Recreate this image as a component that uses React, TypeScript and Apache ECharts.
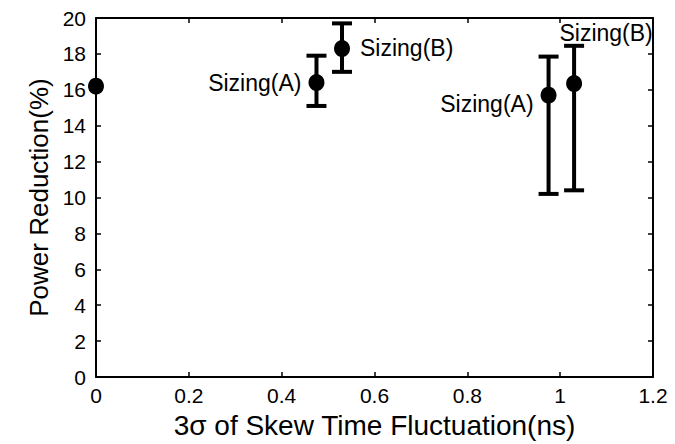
import React, { useEffect, useRef } from "react";
import * as echarts from "echarts";

// ---- data ----
const pointX = [0, 0.475, 0.53, 0.975, 1.03];
const pointY = [16.2, 16.4, 18.3, 15.7, 16.35];
const errLow: (number | null)[] = [null, 15.1, 17.0, 10.2, 10.4];
const errHigh: (number | null)[] = [null, 17.9, 19.7, 17.85, 18.45];
const pointLabels = ["", "Sizing(A)", "Sizing(B)", "Sizing(A)", "Sizing(B)"];

const xMin = 0, xMax = 1.2, xStep = 0.2;
const yMin = 0, yMax = 20, yStep = 2;
const xTitle = "3σ of Skew Time Fluctuation(ns)";
const yTitle = "Power Reduction(%)";

// ---- label placement (style, not data) ----
const labelPlacement: any[] = [
  { show: false },
  { position: "left", distance: 7, offset: [0, 0] },
  { position: "right", distance: 10, offset: [0, -1] },
  { position: "left", distance: 7, offset: [0, 9] },
  { position: "inside", offset: [32, -51] },
];

const FONT = "Liberation Sans, Arial, Helvetica, sans-serif";

export default function App() {
  const ref = useRef<HTMLDivElement>(null);
  useEffect(() => {
    if (!ref.current) return;
    const chart = echarts.init(ref.current, null, { renderer: "svg" });

    const scatterData = pointX.map((x, i) => ({
      value: [x, pointY[i]],
      name: pointLabels[i],
      label: { show: pointLabels[i] !== "", ...labelPlacement[i] },
    }));
    const errData = pointX
      .map((x, i) => [x, errLow[i], errHigh[i]])
      .filter((d) => d[1] !== null && d[2] !== null);

    const axisCommon = {
      type: "value" as const,
      axisLine: { show: true, onZero: false, lineStyle: { color: "#000", width: 2 } },
      axisTick: { show: true, inside: true, length: 5, lineStyle: { color: "#000", width: 1.5 } },
      splitLine: { show: false },
    };

    chart.setOption({
      animation: false,
      backgroundColor: "#fff",
      grid: { left: 96, right: 22, top: 18, bottom: 61, containLabel: false },
      xAxis: [
        {
          ...axisCommon,
          position: "bottom",
          min: xMin,
          max: xMax,
          interval: xStep,
          axisLabel: { color: "#000", fontSize: 21, fontFamily: FONT, margin: 8 },
          name: xTitle,
          nameLocation: "middle",
          nameGap: 34,
          nameTextStyle: { color: "#000", fontSize: 28, fontFamily: FONT },
        },
        {
          ...axisCommon,
          position: "top",
          min: xMin,
          max: xMax,
          interval: xStep,
          axisLabel: { show: false },
        },
      ],
      yAxis: [
        {
          ...axisCommon,
          position: "left",
          min: yMin,
          max: yMax,
          interval: yStep,
          axisLabel: { color: "#000", fontSize: 21, fontFamily: FONT, margin: 10 },
          name: yTitle,
          nameLocation: "middle",
          nameGap: 35,
          nameTextStyle: { color: "#000", fontSize: 26, fontFamily: FONT },
        },
        {
          ...axisCommon,
          position: "right",
          min: yMin,
          max: yMax,
          interval: yStep,
          axisLabel: { show: false },
        },
      ],
      series: [
        {
          type: "custom",
          xAxisIndex: 0,
          yAxisIndex: 0,
          data: errData,
          renderItem: (params: any, api: any) => {
            const x = api.value(0);
            const lo = api.coord([x, api.value(1)]);
            const hi = api.coord([x, api.value(2)]);
            const cap = 10;
            const st = { stroke: "#000", lineWidth: 4 };
            return {
              type: "group",
              children: [
                { type: "line", shape: { x1: lo[0], y1: lo[1], x2: hi[0], y2: hi[1] }, style: st },
                { type: "line", shape: { x1: lo[0] - cap, y1: lo[1], x2: lo[0] + cap, y2: lo[1] }, style: st },
                { type: "line", shape: { x1: hi[0] - cap, y1: hi[1], x2: hi[0] + cap, y2: hi[1] }, style: st },
              ],
            };
          },
          z: 2,
        },
        {
          type: "scatter",
          xAxisIndex: 0,
          yAxisIndex: 0,
          symbol: "circle",
          symbolSize: [16, 17],
          itemStyle: { color: "#000", opacity: 1 },
          data: scatterData,
          label: {
            color: "#000",
            fontSize: 23,
            fontFamily: FONT,
            formatter: (p: any) => p.name,
          },
          emphasis: { disabled: true },
          z: 3,
        },
      ],
    });
    return () => chart.dispose();
  }, []);
  return (
    <div
      ref={ref}
      style={{ position: "fixed", left: 0, top: 0, width: 675, height: 444, background: "#fff" }}
    />
  );
}
